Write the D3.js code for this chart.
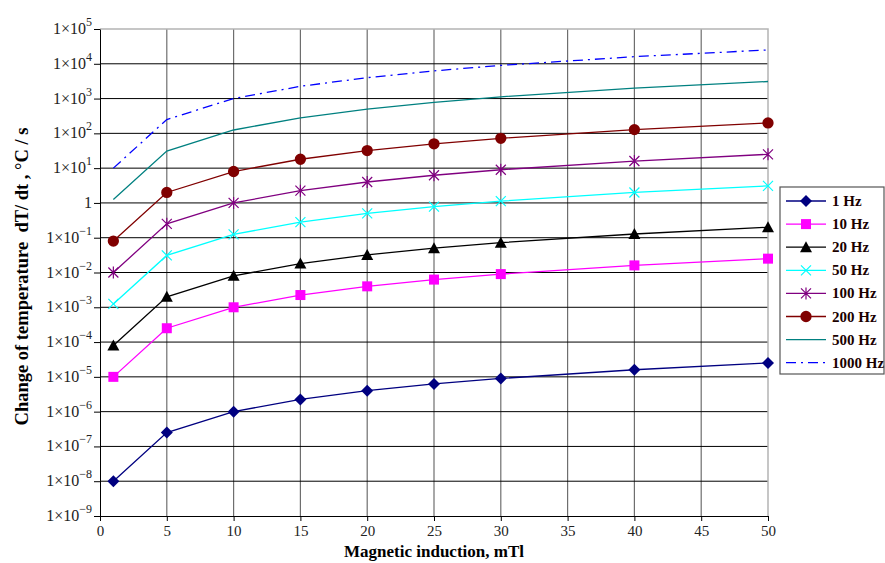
<!DOCTYPE html>
<html lang="en">
<head>
    <meta charset="UTF-8">
    <title>dT/dt vs magnetic induction</title>
    <script src="https://cdn.jsdelivr.net/npm/d3@7"></script>
    <style>
        body { margin: 0; background: #fff; }
        svg text { font-family: "Liberation Serif", "Times New Roman", "DejaVu Serif", serif !important; }
    </style>
</head>
<body>
<script>
    // induction values, mTl
    const inductions = [1, 5, 10, 15, 20, 25, 30, 40, 50];

    const hz1    = [1e-8, 2.5e-7, 1e-6, 2.25e-6, 4e-6, 6.25e-6, 9e-6, 1.6e-5, 2.5e-5];
    const hz10   = [1e-5, 2.5e-4, 1e-3, 2.25e-3, 4e-3, 6.25e-3, 9e-3, 1.6e-2, 2.5e-2];
    const hz20   = [8e-5, 2e-3, 8e-3, 1.8e-2, 3.2e-2, 5e-2, 7.2e-2, 0.128, 0.2];
    const hz50   = [1.25e-3, 3.1e-2, 0.125, 0.28, 0.5, 0.78, 1.125, 2.0, 3.1];
    const hz100  = [1e-2, 0.25, 1, 2.25, 4, 6.25, 9, 16, 25];
    const hz200  = [8e-2, 2, 8, 18, 32, 50, 72, 128, 200];
    const hz500  = [1.25, 31, 125, 280, 500, 780, 1125, 2000, 3100];
    const hz1000 = [10, 250, 1000, 2250, 4000, 6250, 9000, 16000, 25000];

    const seriesNames = ["1 Hz", "10 Hz", "20 Hz", "50 Hz", "100 Hz", "200 Hz", "500 Hz", "1000 Hz"];
    const seriesValues = [hz1, hz10, hz20, hz50, hz100, hz200, hz500, hz1000];

    const xTicks = [0, 5, 10, 15, 20, 25, 30, 35, 40, 45, 50];
    const yExponents = [-9, -8, -7, -6, -5, -4, -3, -2, -1, 0, 1, 2, 3, 4, 5];

    const styles = [
        { color: "#000080", marker: "diamond" },
        { color: "#ff00ff", marker: "square" },
        { color: "#000000", marker: "triangle" },
        { color: "#00ffff", marker: "cross" },
        { color: "#800080", marker: "star" },
        { color: "#800000", marker: "circle" },
        { color: "#008080", marker: null },
        { color: "#0000ff", marker: null, dash: "10,5,2,5" }
    ];

    const width = 885, height = 563;
    const margin = { left: 100, right: 117, top: 29, bottom: 47 };

    const svg = d3.select("body").append("svg")
        .attr("width", width)
        .attr("height", height)
        .attr("font-family", "'Liberation Serif', serif");

    const x = d3.scaleLinear().domain([0, 50]).range([margin.left, width - margin.right]);
    const y = d3.scaleLog().domain([1e-9, 1e5]).range([height - margin.bottom, margin.top]);

    // grid
    const grid = svg.append("g");
    grid.selectAll(".vg")
        .data(xTicks.slice(1, -1))
        .enter().append("line")
        .attr("x1", d => x(d)).attr("x2", d => x(d))
        .attr("y1", y(1e5)).attr("y2", y(1e-9))
        .attr("stroke", "#6e6e6e").attr("stroke-width", 1.2);
    grid.selectAll(".hg")
        .data(yExponents.slice(1, -1))
        .enter().append("line")
        .attr("x1", x(0)).attr("x2", x(50))
        .attr("y1", d => y(Math.pow(10, d))).attr("y2", d => y(Math.pow(10, d)))
        .attr("stroke", "#000").attr("stroke-width", 1);

    // light frame on top and right
    svg.append("path")
        .attr("d", `M${x(0)},${y(1e5)}H${x(50)}V${y(1e-9)}`)
        .attr("fill", "none").attr("stroke", "#b4b4b4").attr("stroke-width", 1.5);

    // axes
    const xAxis = svg.append("g")
        .attr("transform", `translate(0,${y(1e-9)})`)
        .call(d3.axisBottom(x).tickValues(xTicks).tickSize(5).tickSizeOuter(0));
    xAxis.attr("font-family", null);
    xAxis.selectAll("text")
        .attr("font-size", 15).attr("fill", "#222").attr("dy", "0.8em");

    svg.append("g")
        .attr("transform", `translate(${x(0)},0)`)
        .call(d3.axisLeft(y).tickValues(yExponents.map(e => Math.pow(10, e))).tickSize(6).tickSizeOuter(0).tickFormat(""));
    svg.selectAll(".domain").attr("stroke", "#000");
    svg.selectAll(".tick line").attr("stroke", "#000");

    const yLabels = svg.append("g");
    yExponents.forEach(e => {
        const t = yLabels.append("text")
            .attr("x", 92)
            .attr("y", y(Math.pow(10, e)) + 5)
            .attr("text-anchor", "end")
            .attr("font-size", 16)
            .attr("fill", "#222");
        if (e === 0) {
            t.text("1");
        } else {
            t.append("tspan").text("1×10");
            t.append("tspan").attr("font-size", 12).attr("dy", -8).text(e < 0 ? "\u2212" + (-e) : e);
        }
    });

    // series
    const line = d3.line().x(d => x(d[0])).y(d => y(d[1]));
    const markerPaths = {
        diamond: "M0,-6L6,0L0,6L-6,0Z",
        square: "M-5,-5H5V5H-5Z",
        triangle: "M0,-6L6,5H-6Z",
        circle: d3.symbol().type(d3.symbolCircle).size(100)(),
        cross: "M-5,-5L5,5M-5,5L5,-5",
        star: "M-5,-5L5,5M-5,5L5,-5M0,-6V6"
    };

    function drawMarker(g, marker, color) {
        const p = g.append("path").attr("d", markerPaths[marker]);
        if (marker === "cross" || marker === "star") {
            p.attr("fill", "none").attr("stroke", color).attr("stroke-width", 1.2);
        } else {
            p.attr("fill", color);
        }
        return p;
    }

    const plot = svg.append("g");
    seriesValues.forEach((vals, i) => {
        const st = styles[i];
        const pts = inductions.map((b, j) => [b, vals[j]]);
        plot.append("path")
            .datum(pts)
            .attr("d", line)
            .attr("fill", "none")
            .attr("stroke", st.color)
            .attr("stroke-width", 1.3)
            .attr("stroke-dasharray", st.dash || null);
        if (st.marker) {
            pts.forEach(p => {
                const g = plot.append("g").attr("transform", `translate(${x(p[0])},${y(p[1])})`);
                drawMarker(g, st.marker, st.color);
            });
        }
    });

    // legend
    const legend = svg.append("g").attr("transform", "translate(780,187)");
    legend.append("rect")
        .attr("width", 104).attr("height", 187)
        .attr("fill", "#fff").attr("stroke", "#555").attr("stroke-width", 1.2);
    seriesNames.forEach((name, i) => {
        const st = styles[i];
        const ly = 14 + i * 23.1;
        const row = legend.append("g").attr("transform", `translate(0,${ly})`);
        row.append("line")
            .attr("x1", 6).attr("x2", 46)
            .attr("stroke", st.color).attr("stroke-width", 1.3)
            .attr("stroke-dasharray", st.dash || null);
        if (st.marker) {
            const g = row.append("g").attr("transform", "translate(26,0)");
            drawMarker(g, st.marker, st.color);
        }
        row.append("text")
            .attr("x", 52).attr("y", 5)
            .attr("font-size", 15).attr("font-weight", "bold")
            .attr("fill", "#1a0000")
            .text(name);
    });

    // axis titles
    svg.append("text")
        .attr("x", x(25)).attr("y", 557)
        .attr("text-anchor", "middle")
        .attr("font-size", 17).attr("font-weight", "bold")
        .text("Magnetic induction, mTl");

    svg.append("text")
        .attr("transform", `translate(28,${(y(1e5) + y(1e-9)) / 2 + 4}) rotate(-90)`)
        .attr("text-anchor", "middle")
        .attr("font-size", 18.5).attr("font-weight", "bold")
        .attr("xml:space", "preserve")
        .text("Change of temperature  dT/ dt , °C / s");
</script>
</body>
</html>
